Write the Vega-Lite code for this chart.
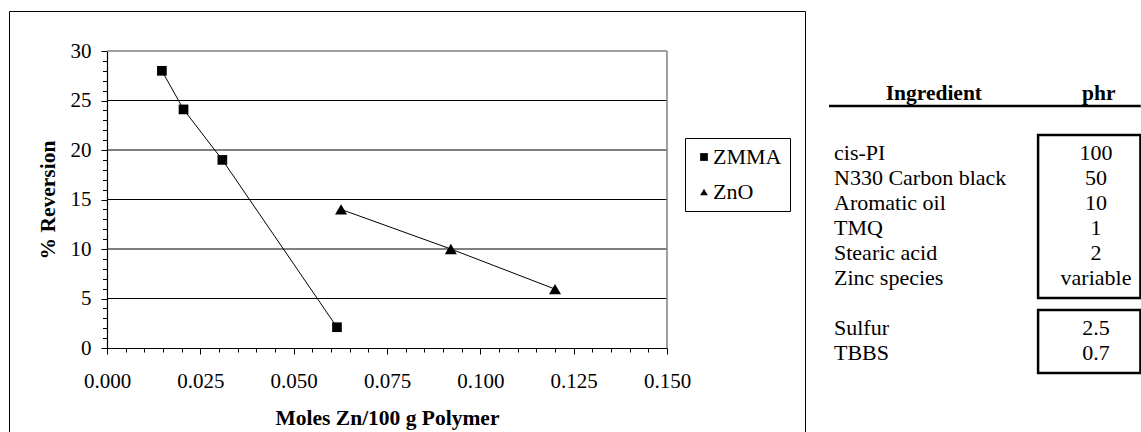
{
  "$schema": "https://vega.github.io/schema/vega-lite/v6.json",
  "padding": {"left": 8, "top": 10, "right": 0, "bottom": 0},
  "background": "white",
  "spacing": 21,
  "config": {
    "font": "Times New Roman, Liberation Serif, serif",
    "view": {"stroke": null},
    "text": {"font": "Times New Roman, Liberation Serif, serif", "fontSize": 22, "color": "black"}
  },
  "hconcat": [
    {
      "width": 796,
      "height": 422,
      "view": {"stroke": "black", "strokeWidth": 1},
      "data": {"values": [
        {"series": "ZMMA", "moles": 0.0147, "reversion": 28.0},
        {"series": "ZMMA", "moles": 0.0205, "reversion": 24.1},
        {"series": "ZMMA", "moles": 0.0309, "reversion": 19.0},
        {"series": "ZMMA", "moles": 0.0616, "reversion": 2.1},
        {"series": "ZnO", "moles": 0.0627, "reversion": 14.0},
        {"series": "ZnO", "moles": 0.0921, "reversion": 10.0},
        {"series": "ZnO", "moles": 0.1200, "reversion": 5.95}
      ]},
      "resolve": {"axis": {"x": "independent", "y": "independent"}},
      "layer": [
        {
          "mark": {"type": "line", "color": "black", "strokeWidth": 1},
          "encoding": {
            "x": {"field": "moles", "type": "quantitative",
              "scale": {"domain": [0, 0.15], "range": [98, 658], "nice": false, "zero": false},
              "axis": {
                "orient": "bottom", "offset": -85, "grid": false,
                "values": [0, 0.025, 0.05, 0.075, 0.1, 0.125, 0.15],
                "format": ".3f", "tickSize": 6,
                "labelOverlap": false, "labelFlush": false,
                "labelFont": "Times New Roman, Liberation Serif, serif", "labelFontSize": 21, "labelColor": "black", "labelPadding": 16,
                "domainColor": "black", "domainWidth": 1.2, "tickColor": "black", "tickWidth": 1,
                "title": "Moles Zn/100 g Polymer", "titleFont": "Times New Roman, Liberation Serif, serif", "titleFontSize": 21.5,
                "titleFontWeight": "bold", "titleColor": "black", "titlePadding": 16
              }},
            "y": {"field": "reversion", "type": "quantitative",
              "scale": {"domain": [0, 30], "range": [337, 40], "nice": false, "zero": false},
              "axis": {
                "orient": "left", "offset": -98, "grid": false,
                "values": [0, 5, 10, 15, 20, 25, 30],
                "tickSize": 6, "labelOverlap": false,
                "labelFont": "Times New Roman, Liberation Serif, serif", "labelFontSize": 21, "labelColor": "black", "labelPadding": 10,
                "domainColor": "black", "domainWidth": 1.2, "tickColor": "black", "tickWidth": 1,
                "title": "% Reversion", "titleFont": "Times New Roman, Liberation Serif, serif", "titleFontSize": 21.5,
                "titleFontWeight": "bold", "titleColor": "black", "titlePadding": 11
              }},
            "detail": {"field": "series", "type": "nominal"}
          }
        },
        {
          "data": {"values": [{"level": 5}, {"level": 10}, {"level": 15}, {"level": 20}, {"level": 25}]},
          "mark": {"type": "rule", "color": "black", "strokeWidth": 1},
          "encoding": {
            "x": {"datum": 0, "type": "quantitative", "axis": null},
            "x2": {"datum": 0.15},
            "y": {"field": "level", "type": "quantitative", "axis": null}
          }
        },
        {
          "data": {"values": [{}]},
          "mark": {"type": "rule", "color": "#808080", "strokeWidth": 1.5},
          "encoding": {
            "x": {"datum": 0, "type": "quantitative", "axis": null},
            "x2": {"datum": 0.15},
            "y": {"datum": 30, "type": "quantitative", "axis": null}
          }
        },
        {
          "data": {"values": [{}]},
          "mark": {"type": "rule", "color": "#808080", "strokeWidth": 1.5},
          "encoding": {
            "x": {"datum": 0.15, "type": "quantitative", "axis": null},
            "y": {"datum": 0, "type": "quantitative", "axis": null},
            "y2": {"datum": 30}
          }
        },
        {
          "transform": [{"filter": "datum.series === 'ZMMA'"}],
          "mark": {"type": "point", "filled": true, "color": "black", "opacity": 1, "size": 94, "strokeWidth": 0},
          "encoding": {
            "x": {"field": "moles", "type": "quantitative",
              "axis": {
                "orient": "bottom", "offset": -85, "grid": false, "labels": false, "domain": false, "title": null,
                "values": [0.005,0.01,0.015,0.02,0.03,0.035,0.04,0.045,0.055,0.06,0.065,0.07,0.08,0.085,0.09,0.095,0.105,0.11,0.115,0.12,0.13,0.135,0.14,0.145],
                "tickSize": 4, "tickColor": "black", "tickWidth": 1
              }},
            "y": {"field": "reversion", "type": "quantitative",
              "axis": {
                "orient": "left", "offset": -98, "grid": false, "labels": false, "domain": false, "title": null,
                "values": [1,2,3,4,6,7,8,9,11,12,13,14,16,17,18,19,21,22,23,24,26,27,28,29],
                "tickSize": 4.5, "tickColor": "black", "tickWidth": 1
              }},
            "shape": {"field": "series", "type": "nominal",
              "scale": {"domain": ["ZMMA", "ZnO"], "range": ["square", "triangle-up"]},
              "legend": {
                "orient": "none", "legendX": 676, "legendY": 127, "title": null,
                "strokeColor": "black", "fillColor": "white", "padding": 8, "rowPadding": 13,
                "labelFont": "Times New Roman, Liberation Serif, serif", "labelFontSize": 22, "labelColor": "black",
                "labelOffset": -2, "symbolSize": 60, "symbolFillColor": "black", "symbolStrokeWidth": 0,
                "symbolOpacity": 1
              }}
          }
        },
        {
          "transform": [{"filter": "datum.series === 'ZnO'"}],
          "mark": {"type": "point", "filled": true, "color": "black", "opacity": 1, "size": 144, "strokeWidth": 0},
          "encoding": {
            "x": {"field": "moles", "type": "quantitative", "axis": null},
            "y": {"field": "reversion", "type": "quantitative", "axis": null},
            "shape": {"field": "series", "type": "nominal"}
          }
        }
      ]
    },
    {
      "width": 313,
      "height": 422,
      "view": {"stroke": null},
      "data": {"values": [
        {"ingredient": "cis-PI", "phr": "100", "group": "compound", "line": 2},
        {"ingredient": "N330 Carbon black", "phr": "50", "group": "compound", "line": 3},
        {"ingredient": "Aromatic oil", "phr": "10", "group": "compound", "line": 4},
        {"ingredient": "TMQ", "phr": "1", "group": "compound", "line": 5},
        {"ingredient": "Stearic acid", "phr": "2", "group": "compound", "line": 6},
        {"ingredient": "Zinc species", "phr": "variable", "group": "compound", "line": 7},
        {"ingredient": "Sulfur", "phr": "2.5", "group": "cure", "line": 9},
        {"ingredient": "TBBS", "phr": "0.7", "group": "cure", "line": 10}
      ]},
      "layer": [
        {
          "mark": {"type": "text", "align": "left", "baseline": "middle", "font": "Times New Roman, Liberation Serif, serif"},
          "encoding": {
            "x": {"datum": 0.016, "type": "quantitative", "scale": {"domain": [0, 1], "nice": false, "zero": false}, "axis": null},
            "y": {"field": "line", "type": "quantitative", "scale": {"domain": [0, 10], "range": [92, 342], "nice": false, "zero": false}, "axis": null},
            "text": {"field": "ingredient"}
          }
        },
        {
          "mark": {"type": "text", "align": "center", "baseline": "middle", "font": "Times New Roman, Liberation Serif, serif"},
          "encoding": {
            "x": {"datum": 0.853, "type": "quantitative"},
            "y": {"field": "line", "type": "quantitative"},
            "text": {"field": "phr"}
          }
        },
        {
          "mark": {"type": "rect", "fill": null, "stroke": "black", "strokeWidth": 2.5, "yOffset": -18, "y2Offset": 20},
          "encoding": {
            "x": {"datum": 0.668, "type": "quantitative"},
            "x2": {"datum": 0.995},
            "y": {"aggregate": "min", "field": "line", "type": "quantitative"},
            "y2": {"aggregate": "max", "field": "line"},
            "detail": {"field": "group", "type": "nominal"}
          }
        },
        {
          "data": {"values": [{"header": "Ingredient"}]},
          "mark": {"type": "text", "align": "center", "baseline": "alphabetic", "fontWeight": "bold", "fontSize": 21.5, "dy": -3, "font": "Times New Roman, Liberation Serif, serif"},
          "encoding": {
            "x": {"datum": 0.335, "type": "quantitative"},
            "y": {"datum": 0, "type": "quantitative"},
            "text": {"field": "header"}
          }
        },
        {
          "data": {"values": [{"header": "phr"}]},
          "mark": {"type": "text", "align": "center", "baseline": "alphabetic", "fontWeight": "bold", "fontSize": 21.5, "dy": -3, "font": "Times New Roman, Liberation Serif, serif"},
          "encoding": {
            "x": {"datum": 0.862, "type": "quantitative"},
            "y": {"datum": 0, "type": "quantitative"},
            "text": {"field": "header"}
          }
        },
        {
          "data": {"values": [{}]},
          "mark": {"type": "rule", "color": "black", "strokeWidth": 2.5, "yOffset": 3},
          "encoding": {
            "x": {"datum": 0, "type": "quantitative"},
            "x2": {"datum": 0.996},
            "y": {"datum": 0, "type": "quantitative"}
          }
        }
      ]
    }
  ]
}
